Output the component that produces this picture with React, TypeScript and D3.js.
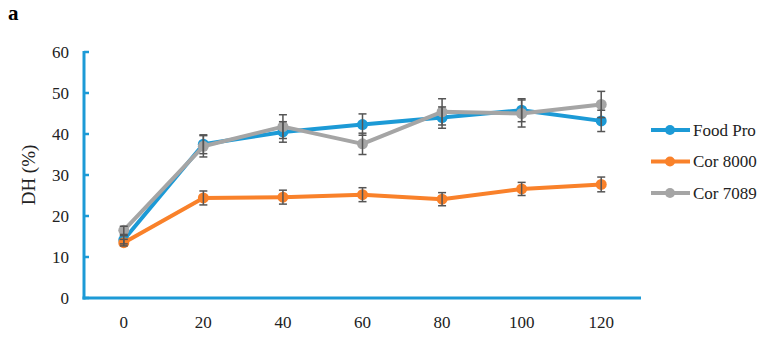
import React, { useEffect, useRef } from "react";
import * as d3 from "d3";

// hydrolysis time (min)
const times = ["0", "20", "40", "60", "80", "100", "120"];
const yTicks = [0, 10, 20, 30, 40, 50, 60];

const foodPro = [14.2, 37.5, 40.5, 42.3, 44.0, 45.8, 43.2];
const foodProErr = [1.0, 2.3, 2.5, 2.6, 2.6, 2.8, 2.6];
const cor8000 = [13.5, 24.4, 24.6, 25.2, 24.1, 26.6, 27.7];
const cor8000Err = [0.8, 1.7, 1.7, 1.7, 1.6, 1.6, 1.8];
const cor7089 = [16.5, 37.0, 41.8, 37.6, 45.4, 45.0, 47.2];
const cor7089Err = [1.0, 2.6, 2.9, 2.6, 3.2, 3.3, 3.2];

const seriesNames = ["Food Pro", "Cor 8000", "Cor 7089"];
const colors = ["#1c9ad6", "#f9812a", "#a5a5a5"];

export default function App() {
  const svgRef = useRef<SVGSVGElement>(null);

  useEffect(() => {
    const width = 766;
    const height = 344;
    const svg = d3.select(svgRef.current);
    svg.selectAll("*").remove();
    svg.attr("width", width).attr("height", height)
      .attr("font-family", "Liberation Serif, Times New Roman, serif");

    const left = 84, right = 641, top = 52, bottom = 298;

    const x = d3.scaleBand().domain(times).range([left, right]);
    const cx = (t: string) => (x(t) as number) + x.bandwidth() / 2;
    const y = d3.scaleLinear().domain([0, 60]).range([bottom, top]);

    // panel letter
    svg.append("text")
      .attr("x", 8).attr("y", 20)
      .attr("font-weight", "bold").attr("font-size", 21)
      .text("a");

    // y axis
    svg.append("line")
      .attr("x1", left).attr("x2", left).attr("y1", y(60) - 1).attr("y2", bottom + 1.5)
      .attr("stroke", "#1c9ad6").attr("stroke-width", 3);
    yTicks.forEach(v => {
      svg.append("line")
        .attr("x1", left).attr("x2", left + 5).attr("y1", y(v)).attr("y2", y(v))
        .attr("stroke", "#1c9ad6").attr("stroke-width", 2.5);
      svg.append("text")
        .attr("x", 69).attr("y", y(v)).attr("dy", "0.35em")
        .attr("text-anchor", "end")
        .attr("font-size", 17).attr("fill", "#222")
        .text(v);
    });

    // x axis
    svg.append("line")
      .attr("x1", left - 1.5).attr("x2", right).attr("y1", bottom).attr("y2", bottom)
      .attr("stroke", "#1c9ad6").attr("stroke-width", 3);
    times.forEach(t => {
      svg.append("text")
        .attr("x", cx(t)).attr("y", 328)
        .attr("text-anchor", "middle")
        .attr("font-size", 17).attr("fill", "#222")
        .text(t);
    });

    svg.append("text")
      .attr("transform", `translate(35,${175}) rotate(-90)`)
      .attr("text-anchor", "middle")
      .attr("font-size", 19).attr("fill", "#222")
      .text("DH (%)");

    const values = [foodPro, cor8000, cor7089];
    const errors = [foodProErr, cor8000Err, cor7089Err];
    const line = d3.line<number>().x((_, i) => cx(times[i])).y(d => y(d));

    values.forEach((vals, s) => {
      const g = svg.append("g");
      g.append("path")
        .attr("d", line(vals))
        .attr("fill", "none")
        .attr("stroke", colors[s])
        .attr("stroke-width", 4)
        .attr("stroke-linejoin", "round");
      g.selectAll("circle")
        .data(vals)
        .enter().append("circle")
        .attr("cx", (_, i) => cx(times[i]))
        .attr("cy", d => y(d))
        .attr("r", 5.5)
        .attr("fill", colors[s]);
    });

    // error bars on top
    values.forEach((vals, s) => {
      vals.forEach((v, i) => {
        const px = cx(times[i]);
        const e = errors[s][i];
        const eg = svg.append("g").attr("stroke", "#555").attr("stroke-width", 1.5);
        eg.append("line").attr("x1", px).attr("x2", px).attr("y1", y(v + e)).attr("y2", y(v - e));
        eg.append("line").attr("x1", px - 4).attr("x2", px + 4).attr("y1", y(v + e)).attr("y2", y(v + e));
        eg.append("line").attr("x1", px - 4).attr("x2", px + 4).attr("y1", y(v - e)).attr("y2", y(v - e));
      });
    });

    // legend
    seriesNames.forEach((name, s) => {
      const ly = 130 + s * 31.5;
      svg.append("line")
        .attr("x1", 651).attr("x2", 690).attr("y1", ly).attr("y2", ly)
        .attr("stroke", colors[s]).attr("stroke-width", 4);
      svg.append("circle").attr("cx", 670).attr("cy", ly).attr("r", 5).attr("fill", colors[s]);
      svg.append("text")
        .attr("x", 693).attr("y", ly).attr("dy", "0.35em")
        .attr("font-size", 17).attr("fill", "#222")
        .text(name);
    });
  }, []);

  return <svg ref={svgRef} style={{ position: "absolute", left: 0, top: 0 }}></svg>;
}
